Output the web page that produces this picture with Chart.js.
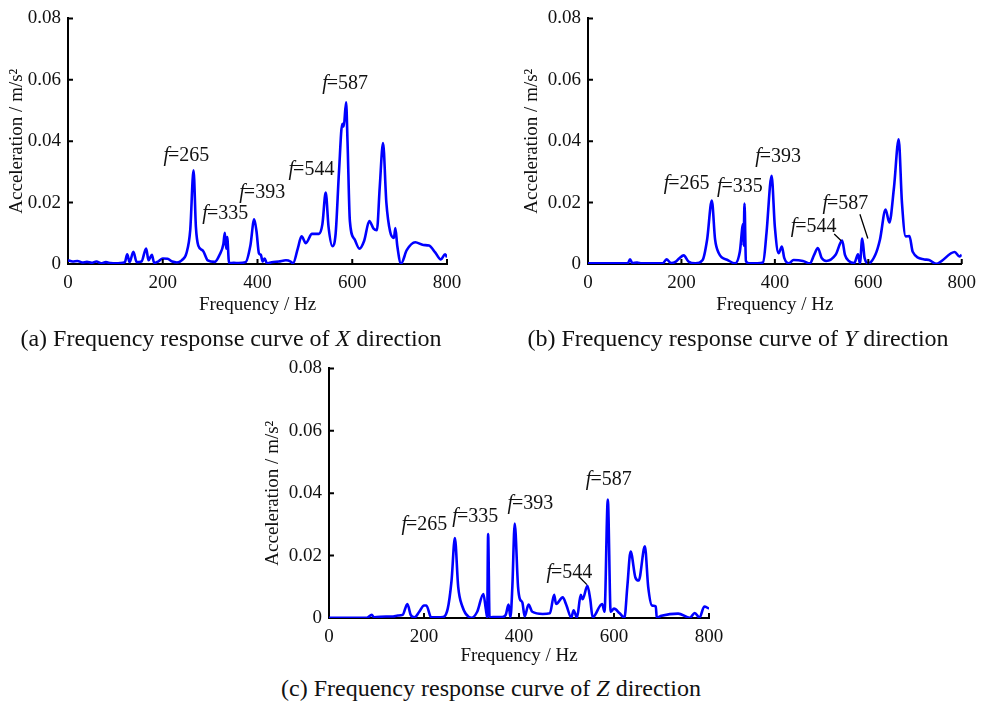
<!DOCTYPE html>
<html>
<head>
<meta charset="utf-8">
<script src="https://cdn.jsdelivr.net/npm/chart.js@4.4.0/dist/chart.umd.min.js"></script>
<style>
  body { margin: 0; background: #fff; width: 984px; height: 704px; position: relative; overflow: hidden;
         font-family: 'Liberation Serif', 'Times New Roman', serif; }
  canvas { position: absolute; }
  .caption { position: absolute; font-size: 24px; line-height: 26px; color: #111; white-space: nowrap;
             transform: translateX(-50%); }
</style>
</head>
<body>
<canvas id="chartX" width="470" height="320" style="left:0;top:0"></canvas>
<canvas id="chartY" width="484" height="320" style="left:500px;top:0"></canvas>
<canvas id="chartZ" width="480" height="320" style="left:260px;top:350px"></canvas>
<div class="caption" style="left:231px;top:325px">(a) Frequency response curve of <i>X</i> direction</div>
<div class="caption" style="left:738px;top:325px">(b) Frequency response curve of <i>Y</i> direction</div>
<div class="caption" style="left:491px;top:675px">(c) Frequency response curve of <i>Z</i> direction</div>
<script>
// X direction
const freqX = [0,10,20,30,40,50,60,70,80,90,100,110,120,125,130,138,145,155,165,170,177,182,190,200,210,220,230,240,250,258,265,270,275,285,295,310,320,328,331,334,336,340,350,360,375,385,393,398,403,407,411,415,420,430,445,460,470,475,485,493,502,515,530,537,544,550,558,565,572,579,582,587,590,595,605,615,625,636,645,652,658,665,672,680,688,691,695,703,715,733,750,762,775,787,796,800];
const accX = [0.0012,0.0008,0.001,0.0005,0.0007,0.0004,0.0008,0.0002,0.0006,0.0003,0.0002,0.0003,0.0006,0.0032,0.0006,0.004,0.0006,0.0008,0.005,0.0012,0.003,0.0003,0.0008,0.0018,0.0017,0.0008,0.0005,0.0012,0.0035,0.011,0.0305,0.012,0.006,0.0043,0.0012,0.0007,0.003,0.0065,0.0102,0.005,0.0088,0.0003,0.0004,0.0003,0.0006,0.006,0.0146,0.0105,0.0035,0.003,0.0008,0.0018,0.0002,0.0006,0.0008,0.0012,0.0008,0.0002,0.005,0.009,0.0068,0.0098,0.0098,0.013,0.0233,0.012,0.0058,0.01,0.03,0.0457,0.0448,0.0527,0.04,0.014,0.008,0.005,0.0075,0.014,0.0115,0.011,0.025,0.0394,0.02,0.0105,0.0085,0.0117,0.006,0.0001,0.0045,0.0071,0.0062,0.006,0.0038,0.0015,0.0032,0.0022];

// Y direction
const freqY = [0,40,85,90,95,105,115,160,168,178,188,195,205,215,230,245,255,265,272,280,300,315,325,332,333,335,338,345,375,382,393,400,408,415,420,430,440,460,475,484,492,500,510,530,544,550,558,570,578,582,587,592,600,615,625,637,645,655,665,672,680,688,695,720,730,745,785,795,800];
const accY = [0.0002,0.0002,0.0002,0.0015,0.0003,0.0005,0.0002,0.0002,0.0015,0.0003,0.0008,0.0018,0.0028,0.0008,0.0002,0.0012,0.008,0.0207,0.008,0.0035,0.0012,0.0002,0.004,0.013,0.006,0.0197,0.001,0.0002,0.0005,0.01,0.0287,0.012,0.0035,0.0057,0.002,0.0002,0.0013,0.001,0.0002,0.003,0.0052,0.002,0.001,0.003,0.0076,0.003,0.001,0.0003,0.0032,0.0002,0.0083,0.002,0.0002,0.003,0.008,0.0177,0.0135,0.025,0.0406,0.02,0.009,0.0091,0.004,0.0015,0.0013,0.0001,0.0039,0.0025,0.003];

// Z direction
const freqZ = [0,80,90,95,120,135,145,155,165,172,180,190,200,205,215,240,250,258,265,272,280,300,312,325,330,333,335,338,345,365,372,378,382,386,391,398,402,407,412,420,428,450,465,474,478,492,500,510,515,522,530,534,544,550,555,575,580,587,593,600,612,622,628,635,645,652,665,672,680,688,690,700,735,760,770,780,790,800];
const accZ = [0.0001,0.0001,0.001,0.0002,0.0005,0.0005,0.0008,0.001,0.0045,0.001,0.0002,0.002,0.004,0.004,0.0002,0.0003,0.003,0.012,0.0256,0.01,0.004,0.0001,0.002,0.0077,0.003,0.0002,0.0269,0.0002,0.0003,0.0003,0.001,0.0043,0.0003,0.01,0.0303,0.01,0.006,0.005,0.0005,0.0043,0.002,0.0013,0.0015,0.0074,0.0045,0.0066,0.004,0.0001,0.0025,0.0001,0.0074,0.006,0.0103,0.006,0.0002,0.0045,0.002,0.038,0.002,0.003,0.0015,0.0001,0.01,0.0213,0.013,0.012,0.023,0.01,0.004,0.0037,0.0001,0.0007,0.0014,0.0001,0.0016,0.0001,0.0037,0.003];

// peak labels (text, position in Hz / m/s2)
const peakNames = ['265', '335', '393', '544', '587'];
const peakHzX = [251, 333, 411, 515, 586];
const peakAccX = [0.0354, 0.0163, 0.0233, 0.0306, 0.0586];
const peakHzY = [212, 326, 408, 484, 552];
const peakAccY = [0.026, 0.0251, 0.0349, 0.0121, 0.0197];
const peakHzZ = [202, 309, 425, 507, 590];
const peakAccZ = [0.030, 0.0326, 0.0367, 0.0145, 0.0443];
// leader lines [hz1, acc1, hz2, acc2]
const leadersY = [[527, 0.0098, 542, 0.0076], [582, 0.0162, 599, 0.0083]];
const leadersZ = [[528, 0.013, 543, 0.0107]];

const xTicks = [0, 200, 400, 600, 800];
const yTicks = [0, 0.02, 0.04, 0.06, 0.08];

const serif = "'Liberation Serif', 'Times New Roman', serif";
const textColor = '#111';

// inward ticks + peak annotations
const decorPlugin = {
    id: 'decor',
    afterDraw(chart, args, opts) {
        const ctx = chart.ctx;
        const xs = chart.scales.x, ys = chart.scales.y;
        const area = chart.chartArea;
        ctx.save();
        ctx.strokeStyle = '#000';
        ctx.lineWidth = 2;
        ctx.beginPath();
        xTicks.slice(1).forEach(v => {
            const px = xs.getPixelForValue(v);
            ctx.moveTo(px, area.bottom);
            ctx.lineTo(px, area.bottom - 5);
        });
        yTicks.slice(1).forEach(v => {
            const py = ys.getPixelForValue(v);
            ctx.moveTo(area.left, py);
            ctx.lineTo(area.left + 5, py);
        });
        ctx.stroke();

        // labels
        ctx.fillStyle = textColor;
        ctx.textBaseline = 'middle';
        ctx.textAlign = 'left';
        opts.names.forEach((name, i) => {
            const cx = xs.getPixelForValue(opts.hz[i]);
            const cy = ys.getPixelForValue(opts.acc[i]);
            ctx.font = 'italic 20px ' + serif;
            const wf = ctx.measureText('f').width;
            ctx.font = '20px ' + serif;
            const wr = ctx.measureText('=' + name).width;
            const x0 = cx - (wf + wr) / 2;
            ctx.font = 'italic 20px ' + serif;
            ctx.fillText('f', x0, cy);
            ctx.font = '20px ' + serif;
            ctx.fillText('=' + name, x0 + wf - 1, cy);
        });

        ctx.strokeStyle = '#000';
        ctx.lineWidth = 1.3;
        ctx.beginPath();
        (opts.leaders || []).forEach(l => {
            ctx.moveTo(xs.getPixelForValue(l[0]), ys.getPixelForValue(l[1]));
            ctx.lineTo(xs.getPixelForValue(l[2]), ys.getPixelForValue(l[3]));
        });
        ctx.stroke();
        ctx.restore();
    }
};

function makeChart(id, freq, acc, hz, pacc, leaders, lay) {
    const ctx = document.getElementById(id).getContext('2d');
    return new Chart(ctx, {
        type: 'line',
        data: {
            datasets: [{
                data: freq.map((f, i) => ({ x: f, y: acc[i] })),
                borderColor: '#0000ff',
                borderWidth: 2.6,
                pointRadius: 0,
                fill: false,
                cubicInterpolationMode: 'monotone'
            }]
        },
        options: {
            responsive: false,
            animation: false,
            events: [],
            layout: { padding: { left: 0, right: lay.right, top: lay.top, bottom: 0 } },
            plugins: {
                legend: { display: false },
                tooltip: { enabled: false },
                decor: { names: peakNames, hz: hz, acc: pacc, leaders: leaders }
            },
            scales: {
                x: {
                    type: 'linear',
                    min: 0, max: 800,
                    afterBuildTicks: s => { s.ticks = xTicks.map(v => ({ value: v })); },
                    afterFit: s => { s.height = lay.xh; },
                    grid: { display: true, drawOnChartArea: false, drawTicks: false },
                    border: { display: true, color: '#000', width: 2 },
                    ticks: { padding: 8, color: textColor, font: { family: serif, size: 19 }, maxRotation: 0 },
                    title: { display: true, text: 'Frequency / Hz', color: textColor,
                             font: { family: serif, size: 19 }, padding: { top: 0, bottom: lay.xtp } }
                },
                y: {
                    min: 0, max: 0.08,
                    afterBuildTicks: s => { s.ticks = yTicks.map(v => ({ value: v })); },
                    afterFit: s => { s.width = lay.yw; },
                    grid: { display: true, drawOnChartArea: false, drawTicks: false },
                    border: { display: true, color: '#000', width: 2 },
                    ticks: { padding: 7, color: textColor, font: { family: serif, size: 19 },
                             callback: v => v === 0 ? '0' : v.toFixed(2) },
                    title: { display: true, text: 'Acceleration / m/s\u00b2', color: textColor,
                             font: { family: serif, size: 19 }, padding: { top: lay.ytp, bottom: 0 } }
                }
            }
        },
        plugins: [decorPlugin]
    });
}

makeChart('chartX', freqX, accX, peakHzX, peakAccX, [], { right: 23, top: 13, yw: 68, xh: 56, ytp: 6, xtp: 4 });
makeChart('chartY', freqY, accY, peakHzY, peakAccY, leadersY, { right: 18, top: 12, yw: 88, xh: 56, ytp: 21, xtp: 4 });
makeChart('chartZ', freqZ, accZ, peakHzZ, peakAccZ, leadersZ, { right: 31, top: 15, yw: 69, xh: 52, ytp: 2, xtp: 3 });
</script>
</body>
</html>
